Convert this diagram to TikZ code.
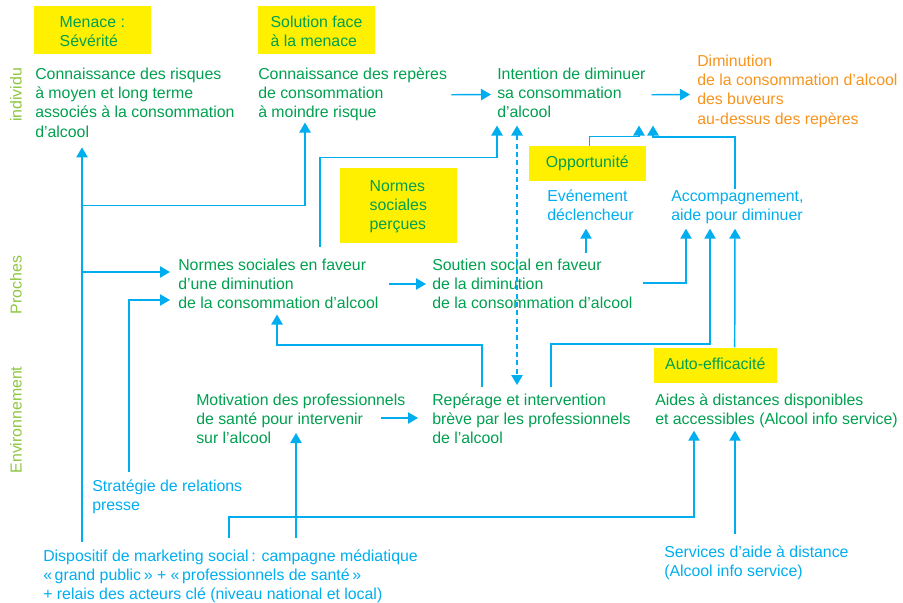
\documentclass[tikz,border=0pt]{standalone}
\usepackage{fontspec}
\setmainfont{Liberation Sans}
\usetikzlibrary{arrows.meta,calc}
\definecolor{tgreen}{RGB}{0,160,80}
\definecolor{lgreen}{RGB}{141,198,63}
\definecolor{lcyan}{RGB}{0,174,239}
\definecolor{torange}{RGB}{247,148,29}
\definecolor{tyellow}{RGB}{255,240,0}
\begin{document}
\begin{tikzpicture}[x=0.75pt,y=-0.75pt,
  every node/.style={font=\fontsize{11.9}{14.5}\selectfont, inner sep=0pt, align=left},
  txt/.style={anchor=north west, text=tgreen},
  ctxt/.style={anchor=north west, text=lcyan},
  otxt/.style={anchor=north west, text=torange},
  ybox/.style={fill=tyellow, text=tgreen, anchor=center},
  side/.style={rotate=90, text=lgreen, anchor=center},
  arr/.style={draw=lcyan, line width=1.1pt, -{Triangle[width=8.5pt,length=7.5pt]}},
  darr/.style={draw=lcyan, line width=1.1pt, dash pattern=on 3.75pt off 2.5pt,
    {Triangle[width=8.5pt,length=7.5pt]}-{Triangle[width=8.5pt,length=7.5pt]}}
]
\useasboundingbox (0,0) rectangle (903,603);

% side labels
\node[side] (sind) at (16,95) {individu};
\node[side] (spro) at (16,285) {Proches};
\node[side] (senv) at (16,420) {Environnement};

% yellow construct boxes
\node[ybox, minimum width=87.5pt, minimum height=36.2pt] (ymen) at (92.3,30.2) {\strut Menace :\\Sévérité};
\node[ybox, minimum width=87.75pt, minimum height=36.2pt] (ysol) at (316.5,30.2) {\strut Solution face\\à la menace};
\node[ybox, minimum width=87.5pt, minimum height=55.8pt] (ynor) at (398.3,205.5) {\strut Normes\\sociales\\perçues};
\node[ybox, minimum width=87.5pt, minimum height=26pt] (yopp) at (587.3,163.3) {\strut Opportunité};
\node[ybox, minimum width=92pt, minimum height=26.25pt] (yaut) at (715.3,365.2) {\strut Auto-efficacité};

% text nodes
\node[txt] (n1) at (35,65.5) {\strut Connaissance des risques\\à moyen et long terme\\associés à la consommation\\d’alcool\strut};
\node[txt] (n2) at (258,65.5) {\strut Connaissance des repères\\de consommation\\à moindre risque\strut};
\node[txt] (n3) at (497,65.5) {\strut Intention de diminuer\\sa consommation\\d’alcool\strut};
\node[otxt] (n4) at (697,52.5) {\strut Diminution\\de la consommation d’alcool\\des buveurs\\au-dessus des repères\strut};
\node[ctxt] (n5) at (547,187.5) {\strut Evénement\\déclencheur\strut};
\node[ctxt] (n6) at (671,187.5) {\strut Accompagnement,\\aide pour diminuer\strut};
\node[txt] (n7) at (178,256.5) {\strut Normes sociales en faveur\\d’une diminution\\de la consommation d’alcool\strut};
\node[txt] (n8) at (432,256.5) {\strut Soutien social en faveur\\de la diminution\\de la consommation d’alcool\strut};
\node[txt] (n9) at (196,391.5) {\strut Motivation des professionnels\\de santé pour intervenir\\sur l’alcool\strut};
\node[txt] (n10) at (432,391.5) {\strut Repérage et intervention\\brève par les professionnels\\de l’alcool\strut};
\node[txt] (n11) at (655,391.5) {\strut Aides à distances disponibles\\et accessibles (Alcool info service)\strut};
\node[ctxt] (n12) at (92,477.5) {\strut Stratégie de relations\\presse\strut};
\node[ctxt] (n13) at (43,547.5) {\strut Dispositif de marketing social\,: campagne médiatique\\«\,grand public\,» + «\,professionnels de santé\,»\\+ relais des acteurs clé (niveau national et local)\strut};
\node[ctxt] (n14) at (664,543.5) {\strut Services d’aide à distance\\(Alcool info service)\strut};

% connectors
\draw[arr] ($(n2.east)+(4,0)$) -- ($(n3.north west)+(-6,29)$);
\draw[arr] ($(n3.east)+(6,0)$) -- ($(n4.north west)+(-7,42)$);
\draw[arr] ($(n13.north west)+(39,-6)$) -- ($(n1.south west)+(47,4)$);
\draw[arr] ($(n1.south west)+(47,62)$) -| ($(n2.south west)+(47,-1.5)$);
\draw[arr] ($(n7.north west)+(-96,15.5)$) -- ($(n7.north west)+(-8,15.5)$);
\draw[arr] ($(n12.north west)+(37,-5.5)$) |- ($(n7.north west)+(-8,43.5)$);
\draw[arr] ($(n7.north west)+(142,-9.5)$) |- ($(n3.south west)+(0,33.5)$) -- ($(n3.south west)+(0,1.5)$);
\draw[darr] ($(n3.south west)+(20,1.5)$) -- ($(n10.north west)+(85,-6.5)$);
\draw[arr] ($(yopp.north west)+(61,0)$) -- ++(0,-9) -| ($(n3.south west)+(142,1.5)$);
\draw[arr] ($(n6.north west)+(64,1.5)$) -- ++(0,-52) -| ($(n3.south west)+(156,1.5)$);
\draw[arr] ($(n8.north west)+(154,-3.5)$) -- ($(n5.south west)+(39,2)$);
\draw[arr] ($(n8.north west)+(211,26.5)$) -| ($(n6.south west)+(15,2)$);
\draw[arr] ($(n10.north west)+(119,-4.5)$) -- ++(0,-43) -| ($(n6.south west)+(39,2)$);
\draw[arr] ($(yaut.north west)+(81,0)$) -- ($(n6.south west)+(64,2)$);
\draw[arr] ($(n10.north west)+(50,-4.5)$) -- ++(0,-42) -| ($(n7.south west)+(99,-0.5)$);
\draw[arr] ($(n7.north west)+(211,27.5)$) -- ($(n8.north west)+(-6,27.5)$);
\draw[arr] ($(n9.north west)+(185,26.5)$) -- ($(n10.north west)+(-14,26.5)$);
\draw[arr] ($(n13.north west)+(253,-9.5)$) -- ($(n9.north west)+(100,41.5)$);
\draw[arr] ($(n13.north west)+(186,-9.5)$) -- ++(0,-21) -| ($(n11.south west)+(39,0)$);
\draw[arr] ($(n14.north west)+(71,-9.5)$) -- ($(n11.south west)+(80,0)$);
\end{tikzpicture}
\end{document}
